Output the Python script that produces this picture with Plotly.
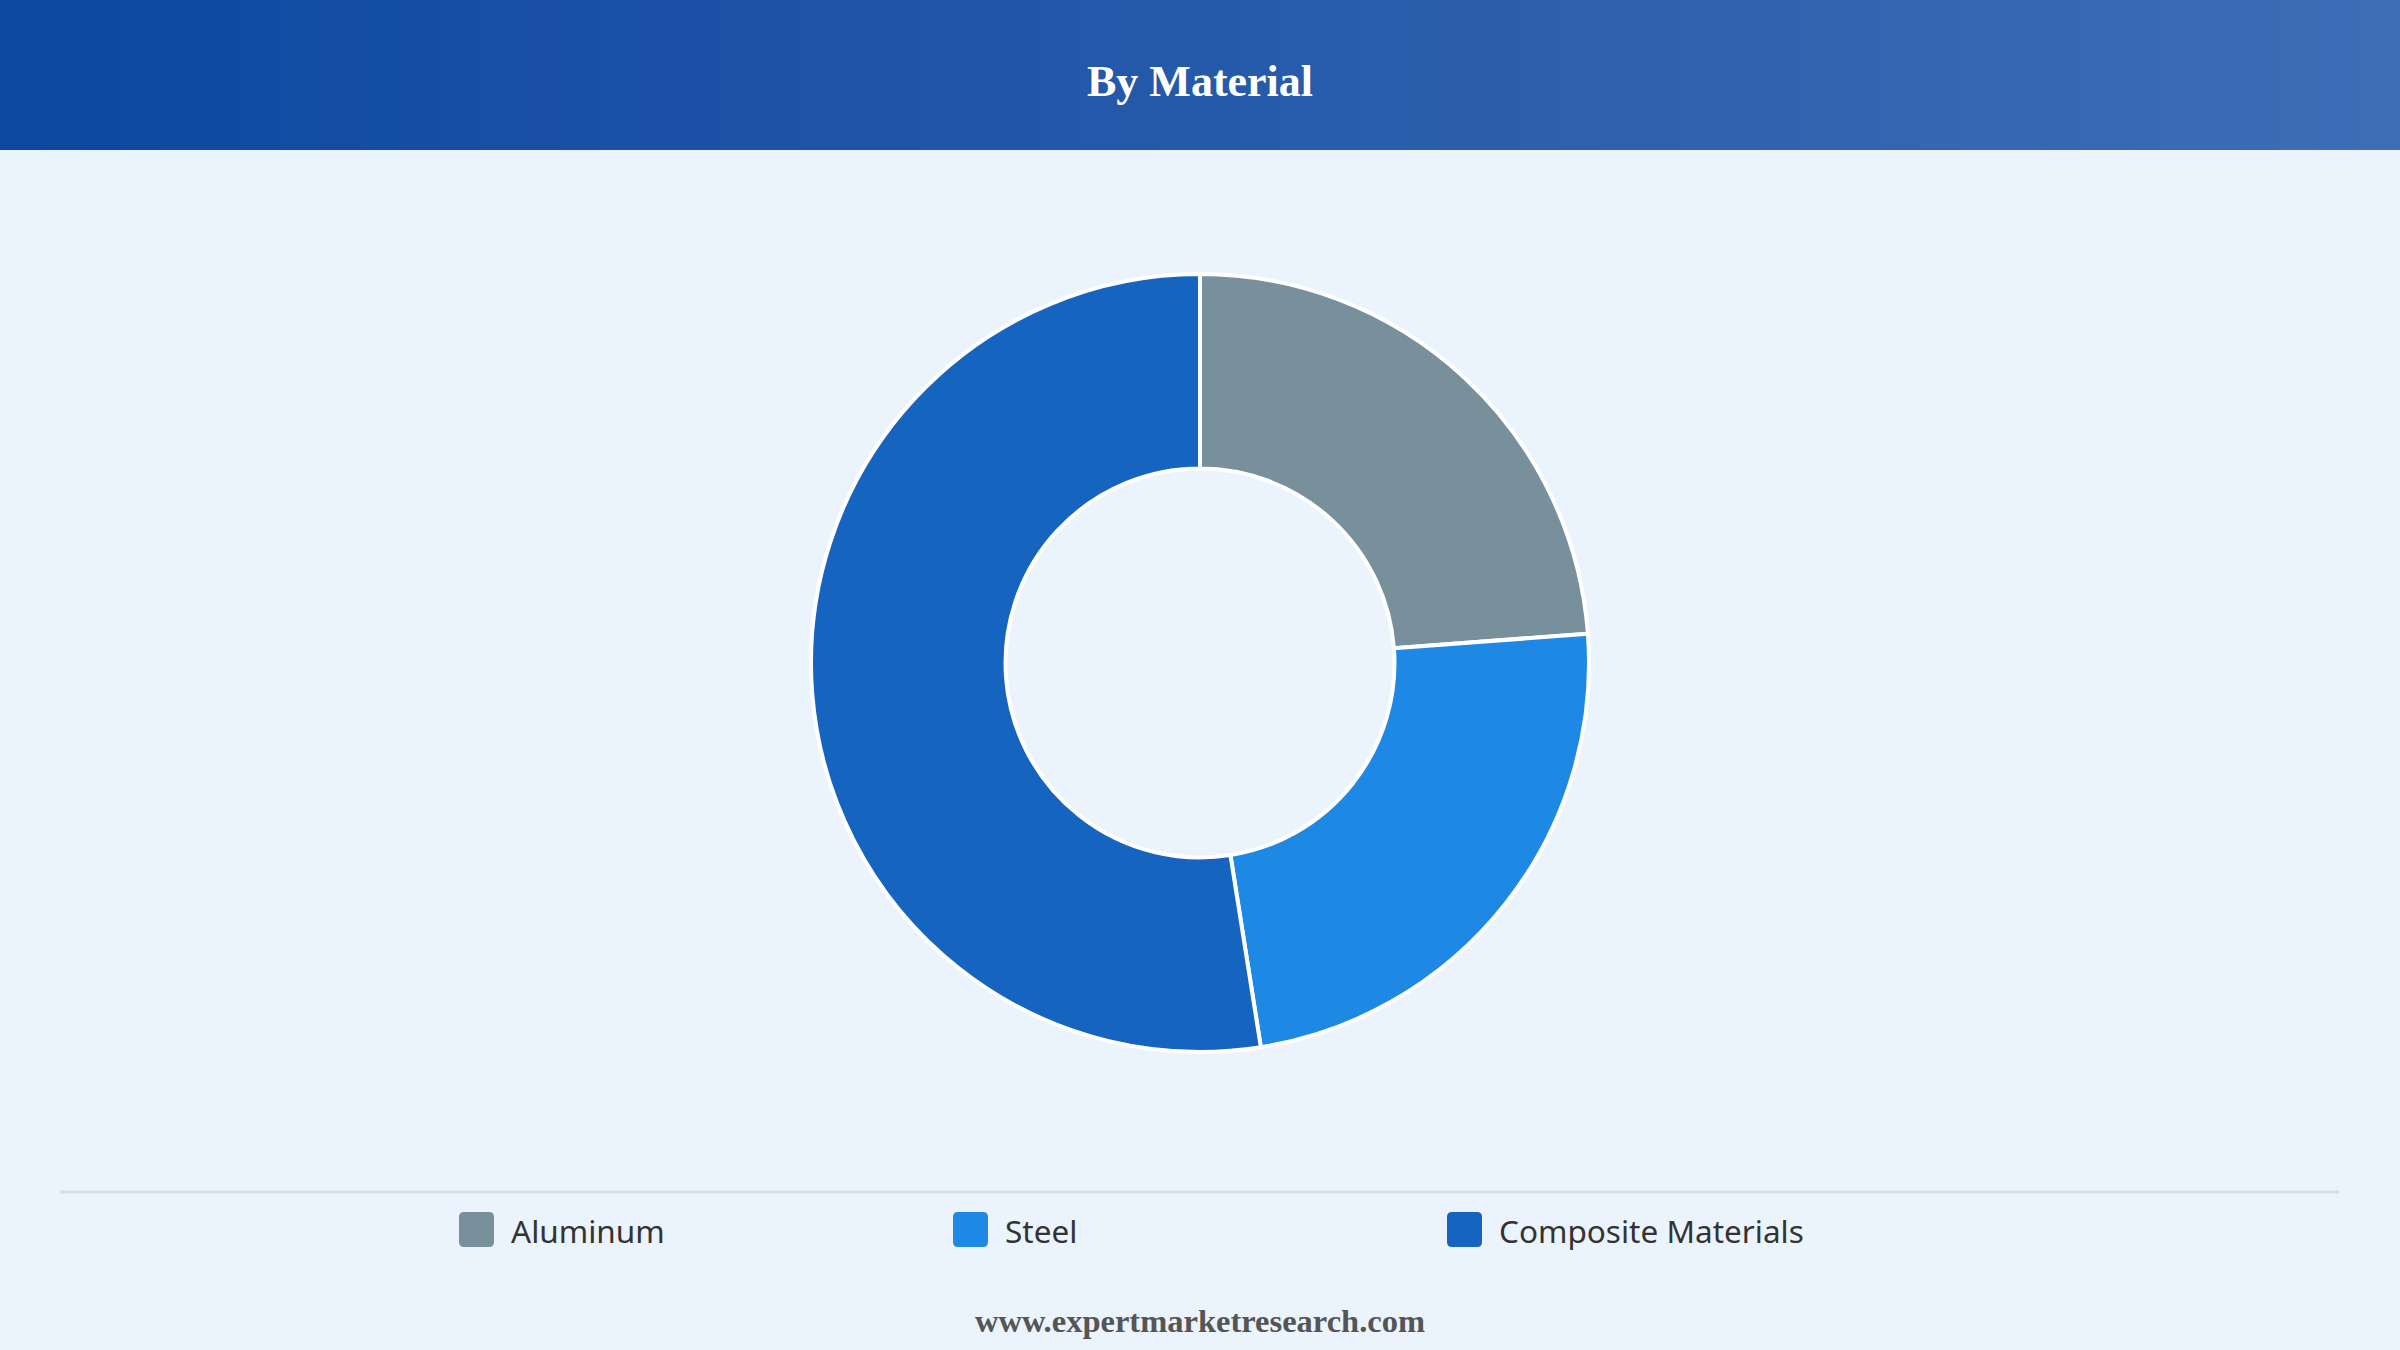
import plotly.graph_objects as go

labels = ["Aluminum", "Steel", "Composite Materials"]
values = [23.8, 23.7, 52.5]
colors = ["#78909c", "#1e88e5", "#1565c0"]

W, H = 2400, 1350
fig = go.Figure(go.Pie(
    labels=labels, values=values, hole=0.5, sort=False, direction="clockwise",
    rotation=0, textinfo="none", hoverinfo="label+percent", showlegend=False,
    marker=dict(colors=colors, line=dict(color="white", width=4)),
    domain=dict(x=[0.2, 0.8], y=[298/H, 1076/H]),
))

shapes = []
n = 60
c0 = (13, 71, 161); c1 = (61, 109, 181)
for i in range(n):
    t = i / (n - 1)
    c = tuple(round(a + (b - a) * t) for a, b in zip(c0, c1))
    shapes.append(dict(type="rect", xref="paper", yref="paper", x0=i/n, x1=(i+1)/n + 0.001,
                       y0=1 - 150/H, y1=1, fillcolor="rgb(%d,%d,%d)" % c, line=dict(width=0), layer="below"))
shapes.append(dict(type="line", xref="paper", yref="paper", x0=60/W, x1=2339/W,
                   y0=1 - 1192/H, y1=1 - 1192/H, line=dict(color="#d9dde3", width=3)))

annotations = [
    dict(text="<b>By Material</b>", xref="paper", yref="paper", x=0.5, y=1 - 81/H, yanchor="middle",
         showarrow=False, font=dict(family="Liberation Serif, Times New Roman, serif", size=44, color="white")),
    dict(text="<b>www.expertmarketresearch.com</b>", xref="paper", yref="paper", x=0.5, y=1 - 1321/H,
         yanchor="middle", showarrow=False,
         font=dict(family="Liberation Serif, Times New Roman, serif", size=32.5, color="#555555")),
]

# custom legend
s, r = 35, 5
for i, (lab, col) in enumerate(zip(labels, colors)):
    x0 = 459 + i * 494
    y0 = 1212
    x1, y1 = x0 + s, y0 + s
    path = (f"M{x0+r},{H-y0} L{x1-r},{H-y0} Q{x1},{H-y0} {x1},{H-y0-r} L{x1},{H-y1+r} "
            f"Q{x1},{H-y1} {x1-r},{H-y1} L{x0+r},{H-y1} Q{x0},{H-y1} {x0},{H-y1+r} "
            f"L{x0},{H-y0-r} Q{x0},{H-y0} {x0+r},{H-y0} Z")
    shapes.append(dict(type="path", xref="x", yref="y", path=path, fillcolor=col, line=dict(width=0)))
    annotations.append(dict(text=lab, xref="x", yref="y", x=x0 + 50, y=H - 1230, xanchor="left",
                            yanchor="middle", showarrow=False,
                            font=dict(family="Noto Sans, Open Sans, sans-serif", size=31.5, color="#333333")))

fig.update_layout(
    width=W, height=H, margin=dict(l=0, r=0, t=0, b=0),
    paper_bgcolor="#ebf3fc", plot_bgcolor="rgba(0,0,0,0)",
    shapes=shapes, annotations=annotations, showlegend=False,
    xaxis=dict(range=[0, W], visible=False, fixedrange=True),
    yaxis=dict(range=[0, H], visible=False, fixedrange=True),
)
fig.write_html("out.html", config={"displayModeBar": False},
               post_script="document.body.style.margin='0';document.body.style.background='#ebf3fc';")
